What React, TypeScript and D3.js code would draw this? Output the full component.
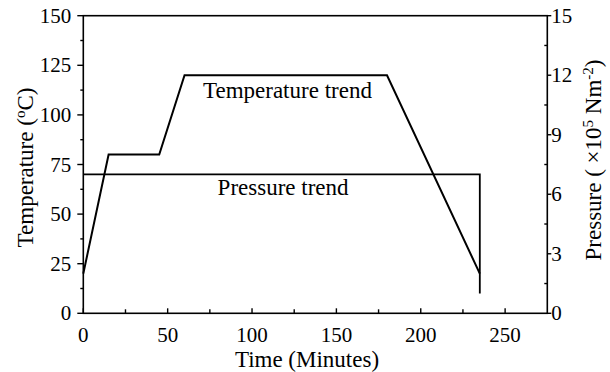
import React from "react";
import * as d3 from "d3";

// Process profile: temperature (°C) and pressure (×10^5 N m^-2) over time (minutes)
const tempTime = [0, 15, 45, 60, 180, 235];
const tempValues = [20, 80, 80, 120, 120, 20];
const pressTime = [0, 235, 235];
const pressValues = [7, 7, 1];

const xTicks = [0, 50, 100, 150, 200, 250];
const xMinorTicks = [25, 75, 125, 175, 225];
const tempTicks = [0, 25, 50, 75, 100, 125, 150];
const tempMinorTicks = [12.5, 37.5, 62.5, 87.5, 112.5, 137.5];
const pressTicks = [0, 3, 6, 9, 12, 15];
const pressMinorTicks = [1.5, 4.5, 7.5, 10.5, 13.5];

const W = 610;
const H = 372;
const M = { left: 83.3, right: 547.3, top: 15.7, bottom: 313.3 };
const FONT = "'Liberation Serif', 'Times New Roman', serif";

export default function App() {
  const x = d3.scaleLinear().domain([0, 275]).range([M.left, M.right]);
  const yT = d3.scaleLinear().domain([0, 150]).range([M.bottom, M.top]);
  const yP = d3.scaleLinear().domain([0, 15]).range([M.bottom, M.top]);

  const tempLine = d3
    .line<number>()
    .x((_, i) => x(tempTime[i]))
    .y((d) => yT(d))(tempValues) as string;
  const pressLine = d3
    .line<number>()
    .x((_, i) => x(pressTime[i]))
    .y((d) => yP(d))(pressValues) as string;

  const tickFont = 21;
  const labelFont = 23;
  const stroke = "#000";

  return (
    <svg
      width={W}
      height={H}
      style={{ position: "absolute", left: 0, top: 0, background: "#fff" }}
      fontFamily={FONT}
    >
      {/* frame */}
      <rect
        x={M.left}
        y={M.top}
        width={M.right - M.left}
        height={M.bottom - M.top}
        fill="none"
        stroke={stroke}
        strokeWidth={1.6}
      />

      {/* bottom axis: ticks point inward */}
      {xTicks.map((t) => (
        <g key={"xt" + t}>
          <line x1={x(t)} x2={x(t)} y1={M.bottom} y2={M.bottom - 5} stroke={stroke} strokeWidth={1.4} />
          <text x={x(t)} y={342} textAnchor="middle" fontSize={tickFont}>
            {t}
          </text>
        </g>
      ))}
      {xMinorTicks.map((t) => (
        <line key={"xm" + t} x1={x(t)} x2={x(t)} y1={M.bottom} y2={M.bottom - 4} stroke={stroke} strokeWidth={1.4} />
      ))}

      {/* left axis: ticks point outward */}
      {tempTicks.map((t) => (
        <g key={"yt" + t}>
          <line x1={M.left} x2={M.left - 6} y1={yT(t)} y2={yT(t)} stroke={stroke} strokeWidth={1.4} />
          <text x={M.left - 12} y={yT(t) + 7} textAnchor="end" fontSize={tickFont}>
            {t}
          </text>
        </g>
      ))}
      {tempMinorTicks.map((t) => (
        <line key={"ym" + t} x1={M.left} x2={M.left - 3} y1={yT(t)} y2={yT(t)} stroke={stroke} strokeWidth={1.4} />
      ))}

      {/* right axis: major ticks outward, minor ticks inward */}
      {pressTicks.map((t) => (
        <g key={"pt" + t}>
          <line x1={M.right} x2={M.right + 4} y1={yP(t)} y2={yP(t)} stroke={stroke} strokeWidth={1.4} />
          <text x={M.right + 4} y={yP(t) + 7} textAnchor="start" fontSize={tickFont}>
            {t}
          </text>
        </g>
      ))}
      {pressMinorTicks.map((t) => (
        <line key={"pm" + t} x1={M.right} x2={M.right - 3} y1={yP(t)} y2={yP(t)} stroke={stroke} strokeWidth={1.4} />
      ))}

      {/* series */}
      <path d={tempLine} fill="none" stroke={stroke} strokeWidth={2} strokeLinejoin="miter" />
      <path d={pressLine} fill="none" stroke={stroke} strokeWidth={1.8} strokeLinejoin="miter" />

      {/* series annotations */}
      <text x={x(121)} y={yT(108.4)} textAnchor="middle" fontSize={labelFont}>
        Temperature trend
      </text>
      <text x={x(118.4)} y={yT(59.6)} textAnchor="middle" fontSize={labelFont}>
        Pressure trend
      </text>

      {/* axis titles */}
      <text x={307} y={367} textAnchor="middle" fontSize={labelFont}>
        Time (Minutes)
      </text>
      <text
        transform={`translate(33, 167.5) rotate(-90)`}
        textAnchor="middle"
        fontSize={labelFont}
      >
        Temperature (
        <tspan dy={-8} fontSize={15}>o</tspan>
        <tspan dy={8}>C)</tspan>
      </text>
      <text
        transform={`translate(601, 160) rotate(-90)`}
        textAnchor="middle"
        fontSize={labelFont}
      >
        Pressure ( ×10
        <tspan dy={-8} fontSize={15}>5</tspan>
        <tspan dy={8}> Nm</tspan>
        <tspan dy={-8} fontSize={15}>-2</tspan>
        <tspan dy={8}>)</tspan>
      </text>
    </svg>
  );
}
